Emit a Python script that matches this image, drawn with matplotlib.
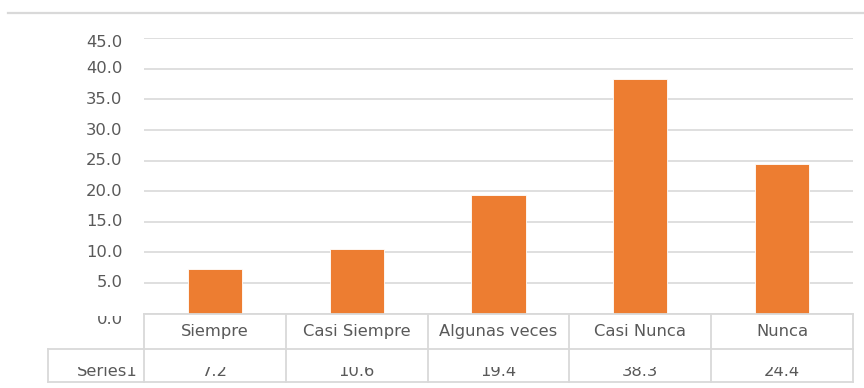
import matplotlib
matplotlib.use("Agg")
import matplotlib.pyplot as plt
from matplotlib.lines import Line2D
from matplotlib.patches import Rectangle
from matplotlib.transforms import blended_transform_factory

# Data
categories = ["Siempre", "Casi Siempre", "Algunas veces", "Casi Nunca", "Nunca"]
values = [7.2, 10.6, 19.4, 38.3, 24.4]
series_name = "Series1"
y_ticks = [0, 5, 10, 15, 20, 25, 30, 35, 40, 45]

W, H = 864, 388
DPI = 100
BAR_COLOR = "#ED7D31"
GRID_COLOR = "#D9D9D9"
TEXT_COLOR = "#595959"
FONT = ["DejaVu Sans"]
FS = 11.8

fig = plt.figure(figsize=(W / DPI, H / DPI), dpi=DPI)
fig.patch.set_facecolor("white")


def fy(py):
    """Pixel row measured from the top -> figure fraction."""
    return 1 - py / H


def fx(px):
    return px / W


# Plot area
ax_left, ax_right = 144, 853
ax_top, ax_bottom = 38.3, 313.5
ax = fig.add_axes([fx(ax_left), fy(ax_bottom),
                   fx(ax_right) - fx(ax_left), fy(ax_top) - fy(ax_bottom)])
ax.set_xlim(-0.5, len(categories) - 0.5)
ax.set_ylim(0, 45)
ax.set_yticks(y_ticks)
ax.set_xticks([])
ax.tick_params(axis="y", length=0, labelleft=False)
ax.yaxis.grid(True, color=GRID_COLOR, linewidth=1.2)
ax.set_axisbelow(True)
for s in ax.spines.values():
    s.set_visible(False)
ax.patch.set_alpha(0)

x = list(range(len(categories)))
ax.bar(x, values, width=0.383, color=BAR_COLOR, edgecolor="white",
       linewidth=0.6, zorder=3)

# Value-axis labels (the end labels sit slightly inside the plot area)
ylab_tr = blended_transform_factory(fig.transFigure, ax.transData)
px_per_unit = (ax_bottom - ax_top) / 45.0
label_clip = Rectangle((0, 0), 1, fy(316), transform=fig.transFigure)
for v in y_ticks:
    shift = 0.0
    if v == y_ticks[-1]:
        shift = -4.0 / px_per_unit
    elif v == y_ticks[0]:
        shift = -6.3 / px_per_unit
    t = fig.text(fx(122.5), v + shift, f"{v:.1f}", transform=ylab_tr,
                 ha="right", va="center", fontsize=FS, color=TEXT_COLOR,
                 family=FONT)
    if v == y_ticks[0]:
        t.set_clip_path(label_clip)

# Data table below the plot
col_tr = blended_transform_factory(ax.transData, fig.transFigure)
edges = [i - 0.5 for i in range(len(categories) + 1)]
row_top, row_mid, row_bot = 314, 349, 382
key_left = 47.5
lw = 1.3

fig.add_artist(Line2D([edges[0], edges[-1]], [fy(row_top)] * 2,
                      transform=col_tr, color=GRID_COLOR, lw=lw))
for py in (row_mid, row_bot):
    fig.add_artist(Line2D([fx(key_left), fx(ax_right)], [fy(py)] * 2,
                          transform=fig.transFigure, color=GRID_COLOR, lw=lw))
for e in edges:
    fig.add_artist(Line2D([e, e], [fy(row_top), fy(row_bot)],
                          transform=col_tr, color=GRID_COLOR, lw=lw))
fig.add_artist(Line2D([fx(key_left)] * 2, [fy(row_mid), fy(row_bot)],
                      transform=fig.transFigure, color=GRID_COLOR, lw=lw))

# Chart frame edge at the top
fig.add_artist(Line2D([fx(8), 1.0], [fy(12.7)] * 2, transform=fig.transFigure,
                      color=GRID_COLOR, lw=1.6))

# Category header row
for i, c in enumerate(categories):
    fig.text(i, fy(336.3), c, transform=col_tr, ha="center", va="baseline",
             fontsize=FS, color=TEXT_COLOR, family=FONT)

# Value row (text clipped at the top of its band)
row_clip = Rectangle((0, 0), 1, fy(366.5), transform=fig.transFigure)
t = fig.text(fx(137.5), fy(376.5), series_name, ha="right", va="baseline",
             fontsize=FS, color=TEXT_COLOR, family=FONT)
t.set_clip_path(row_clip)
for i, v in enumerate(values):
    t = fig.text(i, fy(376.5), f"{v:.1f}", transform=col_tr, ha="center",
                 va="baseline", fontsize=FS, color=TEXT_COLOR, family=FONT)
    t.set_clip_path(row_clip)

fig.savefig("out.png", dpi=DPI, facecolor="white")
